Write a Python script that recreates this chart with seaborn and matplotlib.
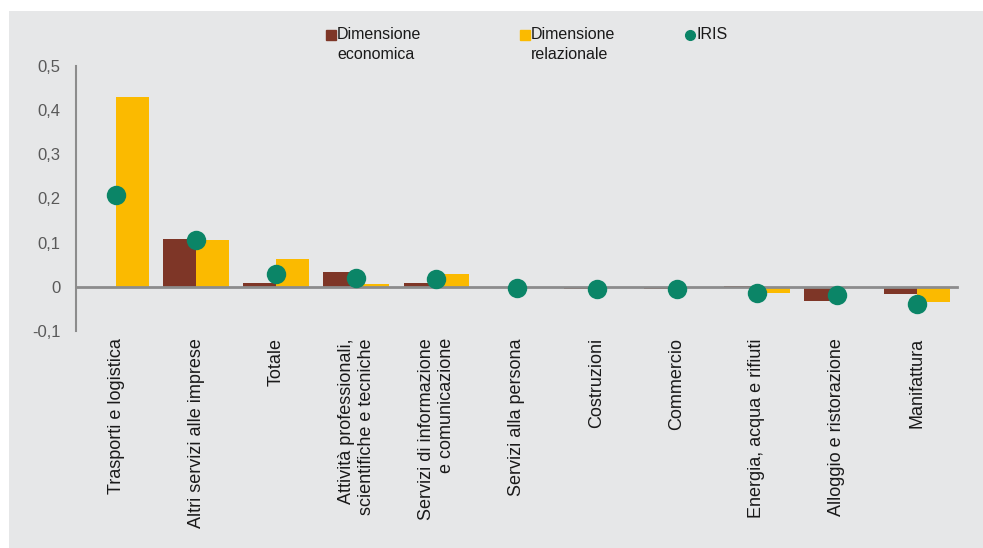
import pandas as pd
import numpy as np
import matplotlib
matplotlib.use("Agg")
import matplotlib.pyplot as plt
import seaborn as sns
from matplotlib.lines import Line2D
from matplotlib.patches import Rectangle

# Data
settori = ["Trasporti e logistica", "Altri servizi alle imprese", "Totale",
           "Attività professionali,\nscientifiche e tecniche",
           "Servizi di informazione\ne comunicazione", "Servizi alla persona",
           "Costruzioni", "Commercio", "Energia, acqua e rifiuti",
           "Alloggio e ristorazione", "Manifattura"]
dim_economica = [0.0, 0.109, 0.008, 0.034, 0.009, 0.0, -0.004, -0.005, 0.003, -0.033, -0.016]
dim_relazionale = [0.429, 0.105, 0.062, 0.006, 0.028, 0.0, 0.0, 0.0, -0.015, -0.001, -0.035]
iris = [0.209, 0.107, 0.030, 0.021, 0.017, -0.003, -0.004, -0.004, -0.015, -0.019, -0.039]
y_ticks = [-0.1, 0, 0.1, 0.2, 0.3, 0.4, 0.5]
y_labels = ["-0,1", "0", "0,1", "0,2", "0,3", "0,4", "0,5"]

BROWN = "#7E3627"
YELLOW = "#FBBA00"
GREEN = "#0B8567"
BG = "#E6E7E8"
AXIS = "#8C8C8C"

sns.set_style("white")
plt.rcParams["font.family"] = ["Liberation Sans", "DejaVu Sans"]

df = pd.DataFrame({
    "settore": settori * 2,
    "valore": dim_economica + dim_relazionale,
    "serie": ["Dimensione economica"] * len(settori) + ["Dimensione relazionale"] * len(settori),
})

fig = plt.figure(figsize=(9.83, 5.48), dpi=100)
fig.patch.set_facecolor("white")
fig.add_artist(Rectangle((9 / 983, 0), 1, 1 - 11 / 548, transform=fig.transFigure,
                         facecolor=BG, edgecolor="none", zorder=-10))

ax = fig.add_axes([76 / 983, 1 - 331 / 548, (957 - 76) / 983, (331 - 66) / 548])
ax.set_facecolor("none")

sns.barplot(data=df, x="settore", y="valore", hue="serie", order=settori,
            palette=[BROWN, YELLOW], width=0.82, gap=0, saturation=1,
            linewidth=0, legend=False, ax=ax, zorder=2)
sns.stripplot(x=settori, y=iris, order=settori, jitter=False, color=GREEN,
              size=14, linewidth=0, ax=ax, zorder=4)

ax.set_xlim(-0.5, len(settori) - 0.5)
ax.set_ylim(-0.1, 0.5)
ax.set_xlabel("")
ax.set_ylabel("")

ax.set_yticks(y_ticks)
ax.set_yticklabels(y_labels, fontsize=12, color="#595959")
ax.tick_params(axis="y", length=5, width=1.2, color=AXIS, pad=6)

# x axis drawn at zero, with ticks at the category boundaries
ax.spines["bottom"].set_position(("data", 0))
ax.spines["bottom"].set_color(AXIS)
ax.spines["bottom"].set_linewidth(2)
ax.spines["bottom"].set_zorder(3)
ax.spines["left"].set_color(AXIS)
ax.spines["left"].set_linewidth(1.5)
for s in ["top", "right"]:
    ax.spines[s].set_visible(False)

ax.set_xticks(np.arange(len(settori)))
ax.set_xticklabels(settori, rotation=90, fontsize=13, color="#1A1A1A",
                   ha="center", va="top", multialignment="right")
ax.tick_params(axis="x", which="major", length=0, pad=37)
ax.set_xticks(np.arange(len(settori) + 1) - 0.5, minor=True)
ax.tick_params(axis="x", which="minor", length=5, width=1.2, color=AXIS, direction="out")

# legend built by hand so the marker sits beside the first text line
legend_items = [
    (331, "s", BROWN, "Dimensione\neconomica"),
    (525, "s", YELLOW, "Dimensione\nrelazionale"),
    (690, "o", GREEN, "IRIS"),
]
for xpix, mk, col, txt in legend_items:
    fig.add_artist(Line2D([xpix / 983], [1 - 35 / 548], transform=fig.transFigure,
                          marker=mk, markersize=7, color=col, linestyle="none"))
    fig.text((xpix + 6) / 983, 1 - 27 / 548, txt, fontsize=11.5, color="#1A1A1A",
             ha="left", va="top", linespacing=1.45,
             family=["Liberation Sans Narrow", "Liberation Sans", "DejaVu Sans"])

fig.savefig("out.png", dpi=100, facecolor=fig.get_facecolor())
